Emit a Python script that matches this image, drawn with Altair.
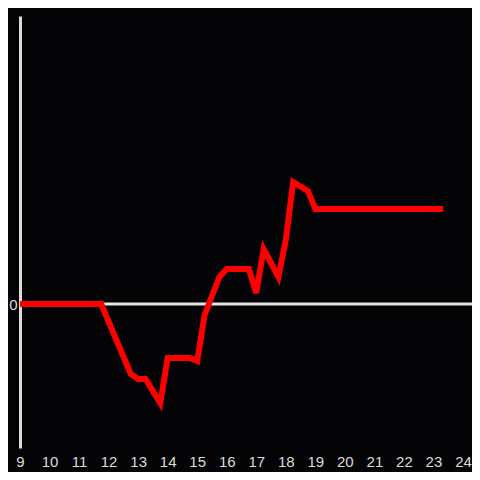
import altair as alt
import pandas as pd

hours = [9, 11.75, 12.75, 13.0, 13.25, 13.75, 14.0, 14.75, 15.0, 15.25, 15.75,
         16.0, 16.75, 17.0, 17.25, 17.75, 18.0, 18.25, 18.75, 19.0, 23.33]
values = [0, 0, -70, -75, -75, -99, -54, -54, -57, -11, 27,
          35, 35, 11, 55, 27, 64, 122, 113, 95, 95]
x_ticks = list(range(9, 25))

df = pd.DataFrame({"hour": hours, "value": values})

x = alt.X("hour:Q", scale=alt.Scale(domain=[9, 24.305], nice=False, zero=False),
          axis=alt.Axis(values=x_ticks, domain=False, ticks=False, grid=False,
                        labelColor="#dcdcdc", labelFontSize=15, labelFont="Liberation Sans",
                        labelPadding=6, title=None, labelFlush=False))
y = alt.Y("value:Q", scale=alt.Scale(domain=[-144, 288], nice=False),
          axis=alt.Axis(values=[0], domain=True, domainColor="#dcdcdc", domainWidth=3,
                        ticks=False, grid=False, labelColor="#dcdcdc", labelFontSize=15,
                        labelFont="Liberation Sans", labelPadding=3, title=None))

line = alt.Chart(df).mark_line(color="#ff0000", strokeWidth=6).encode(x=x, y=y)
zero = alt.Chart(pd.DataFrame({"v": [0]})).mark_rule(color="#e6e6e6", strokeWidth=3).encode(
    y=alt.Y("v:Q", scale=alt.Scale(domain=[-144, 288], nice=False)))

chart = alt.layer(zero, line).properties(
    width=452, height=432,
    background="#040305",
    padding={"left": 12, "top": 8, "right": 0, "bottom": 24},
    autosize=alt.AutoSizeParams(type="none"),
).configure_view(stroke=None)

chart.save("out.html", embed_options={"renderer": "svg", "actions": False})
